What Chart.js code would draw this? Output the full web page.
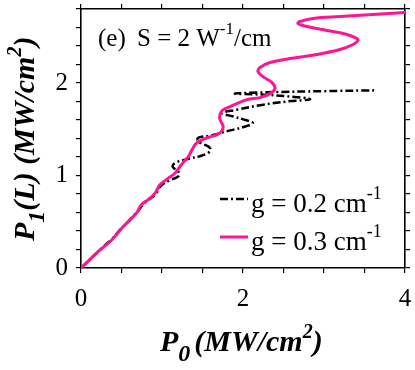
<!DOCTYPE html>
<html>
<head>
<meta charset="utf-8">
<script src="https://cdn.jsdelivr.net/npm/chart.js@4.4.1/dist/chart.umd.min.js"></script>
<style>
  html, body { margin: 0; padding: 0; background: #fff; }
</style>
</head>
<body>
<canvas id="chart" width="415" height="370"></canvas>
<script>
// g = 0.2 cm^-1 (dash-dot), ordered along the curve
const g02X = [0, 0.30, 0.38, 0.45, 0.50, 0.56, 0.61, 0.65, 0.70, 0.75, 0.80, 0.87, 0.93, 0.96, 1.00, 1.10, 1.20, 1.21, 1.16, 1.13, 1.17, 1.33, 1.47, 1.57, 1.60, 1.57, 1.49, 1.44, 1.45, 1.59, 1.83, 2.03, 2.12, 2.03, 1.87, 1.74, 1.92, 2.25, 2.54, 2.83, 2.54, 2.25, 1.90, 2.30, 3.00, 3.65];
const g02Y = [0, 0.25, 0.31, 0.38, 0.43, 0.48, 0.53, 0.57, 0.61, 0.67, 0.72, 0.76, 0.81, 0.86, 0.90, 0.95, 0.99, 1.03, 1.07, 1.10, 1.14, 1.18, 1.21, 1.245, 1.28, 1.315, 1.345, 1.38, 1.41, 1.43, 1.485, 1.53, 1.568, 1.60, 1.64, 1.676, 1.71, 1.766, 1.80, 1.825, 1.856, 1.874, 1.885, 1.90, 1.912, 1.921];

// g = 0.3 cm^-1 (magenta)
const g03X = [0, 0.235, 0.379, 0.502, 0.605, 0.687, 0.749, 0.831, 0.914, 0.975, 1.078, 1.160, 1.222, 1.284, 1.333, 1.370, 1.432, 1.556, 1.679, 1.741, 1.753, 1.716, 1.716, 1.741, 1.840, 2.049, 2.210, 2.333, 2.395, 2.358, 2.247, 2.185, 2.210, 2.333, 2.580, 2.914, 3.198, 3.358, 3.420, 3.407, 3.284, 3.037, 2.790, 2.679, 2.704, 2.864, 3.198, 3.605, 4.0];
const g03Y = [0, 0.195, 0.303, 0.429, 0.520, 0.596, 0.686, 0.740, 0.809, 0.899, 0.971, 1.025, 1.097, 1.163, 1.213, 1.278, 1.354, 1.408, 1.441, 1.484, 1.538, 1.603, 1.658, 1.701, 1.744, 1.820, 1.842, 1.885, 1.939, 2.004, 2.069, 2.124, 2.167, 2.221, 2.264, 2.308, 2.362, 2.416, 2.459, 2.481, 2.524, 2.568, 2.611, 2.644, 2.665, 2.698, 2.719, 2.741, 2.763];

const xTickLabels = [0, 2, 4];
const yTickLabels = [0, 1, 2];

const SERIF = '"Liberation Serif", "Times New Roman", serif';

function pts(xs, ys) {
    return xs.map((x, i) => ({ x: x, y: ys[i] }));
}

function labelFor(list) {
    return function(v) {
        const hit = list.find(l => Math.abs(l - v) < 1e-6);
        return hit === undefined ? '' : String(hit);
    };
}

// fixes the box size and drops the label overflow padding
function fixSize(w, h) {
    return function(s) {
        if (w !== null) s.width = w;
        if (h !== null) s.height = h;
        s.paddingLeft = 0; s.paddingRight = 0;
        s.paddingTop = 0; s.paddingBottom = 0;
    };
}

// draws text pieces one after another (sub/superscripts)
function drawRich(ctx, parts, x, y) {
    parts.forEach(p => {
        ctx.font = (p.style || '') + ' ' + p.size + 'px ' + SERIF;
        ctx.fillText(p.t, x, y + (p.dy || 0));
        x += ctx.measureText(p.t).width + (p.gap || 0);
    });
}

const textPlugin = {
    id: 'texts',
    afterDraw(chart) {
        const ctx = chart.ctx;
        const ds = chart.data.datasets;
        ctx.save();
        ctx.fillStyle = '#000';
        ctx.textBaseline = 'alphabetic';
        ctx.textAlign = 'left';

        // panel annotation
        drawRich(ctx, [{ t: '(e)', size: 25 }], 98, 46);
        drawRich(ctx, [
            { t: 'S = 2 W', size: 25 },
            { t: '-1', size: 17, dy: -12 },
            { t: '/cm', size: 25 }
        ], 137, 46);

        // legend
        const rows = [
            { ds: ds[0], y: 199, base: 212, label: 'g = 0.2 cm' },
            { ds: ds[1], y: 237, base: 250, label: 'g = 0.3 cm' }
        ];
        rows.forEach(r => {
            ctx.save();
            ctx.strokeStyle = r.ds.borderColor;
            ctx.lineWidth = r.ds.borderWidth;
            ctx.setLineDash(r.ds.borderDash || []);
            ctx.beginPath();
            ctx.moveTo(220, r.y);
            ctx.lineTo(248, r.y);
            ctx.stroke();
            ctx.restore();
            drawRich(ctx, [
                { t: r.label, size: 27 },
                { t: '-1', size: 18, dy: -13 }
            ], 251, r.base);
        });

        // x title
        drawRich(ctx, [
            { t: 'P', size: 30, style: 'italic bold' },
            { t: '0', size: 24, style: 'italic bold', dy: 10, gap: 4 },
            { t: '(MW/cm', size: 30, style: 'italic bold' },
            { t: '2', size: 20, style: 'italic bold', dy: -13 },
            { t: ')', size: 30, style: 'italic bold' }
        ], 160, 351);

        // y title
        ctx.translate(34, 241);
        ctx.rotate(-Math.PI / 2);
        drawRich(ctx, [
            { t: 'P', size: 30, style: 'italic bold' },
            { t: '1', size: 24, style: 'italic bold', dy: 10 },
            { t: '(L) (MW/cm', size: 30, style: 'italic bold' },
            { t: '2', size: 20, style: 'italic bold', dy: -13 },
            { t: ')', size: 30, style: 'italic bold' }
        ], 0, 0);
        ctx.restore();
    }
};

const gridOpts = { drawOnChartArea: false, drawTicks: true, tickLength: 5, color: '#000', lineWidth: 1.2 };
const borderOpts = { color: '#000', width: 1.6 };

new Chart(document.getElementById('chart'), {
    type: 'scatter',
    data: {
        datasets: [
            {
                label: 'g = 0.2 cm-1',
                data: pts(g02X, g02Y),
                showLine: true,
                borderColor: '#000',
                borderWidth: 2.5,
                borderDash: [8, 3, 2, 3],
                pointRadius: 0,
                tension: 0.4,
                order: 2
            },
            {
                label: 'g = 0.3 cm-1',
                data: pts(g03X, g03Y),
                showLine: true,
                borderColor: '#ff1493',
                borderWidth: 3,
                pointRadius: 0,
                tension: 0.4,
                order: 1
            }
        ]
    },
    options: {
        responsive: false,
        animation: false,
        layout: { padding: 0 },
        plugins: { legend: { display: false }, tooltip: { enabled: false } },
        scales: {
            x: {
                type: 'linear', position: 'bottom', min: 0, max: 4,
                ticks: { stepSize: 0.5, autoSkip: false, maxRotation: 0, padding: 11, color: '#000',
                         font: { family: SERIF, size: 25 }, callback: labelFor(xTickLabels) },
                grid: gridOpts, border: borderOpts,
                afterFit: fixSize(null, 102)
            },
            x2: {
                type: 'linear', position: 'top', min: 0, max: 4,
                ticks: { stepSize: 0.5, display: false },
                grid: gridOpts, border: borderOpts,
                afterFit: fixSize(null, 9)
            },
            y: {
                type: 'linear', position: 'left', min: 0, max: 2.8,
                ticks: { stepSize: 0.2, autoSkip: false, padding: 8, color: '#000',
                         font: { family: SERIF, size: 25 }, callback: labelFor(yTickLabels) },
                grid: gridOpts, border: borderOpts,
                afterFit: fixSize(81, null)
            },
            y2: {
                type: 'linear', position: 'right', min: 0, max: 2.8,
                ticks: { stepSize: 0.2, display: false },
                grid: gridOpts, border: borderOpts,
                afterFit: fixSize(10, null)
            }
        }
    },
    plugins: [textPlugin]
});
</script>
</body>
</html>
